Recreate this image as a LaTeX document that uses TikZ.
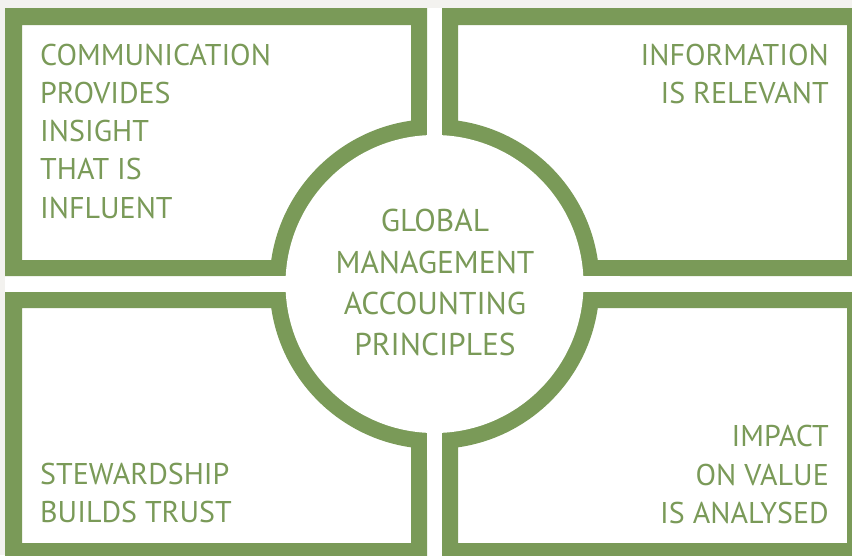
\documentclass[tikz,border=0pt]{standalone}
\usepackage{fontspec}
\setmainfont{PT Sans}
\usetikzlibrary{positioning}
\definecolor{gmagreen}{RGB}{122,154,88}
\definecolor{gmagrey}{RGB}{243,242,239}

\begin{document}
\begin{tikzpicture}[x=1pt, y=-1pt,
    frame/.style={fill=gmagreen, even odd rule},
    principle/.style={text=gmagreen, inner sep=0pt,
      font=\fontsize{30}{38.3}\selectfont},
    centre/.style={principle, align=center,
      font=\fontsize{31.5}{41.3}\selectfont}]
    \useasboundingbox (0,0) rectangle (852,555);
    \fill[gmagrey] (0,0) rectangle (852,555);
    \fill[white] (5,8) rectangle (852,555);

    \fill[frame] (5,8) rectangle (427,276) (22,25) rectangle (411,260);
    \fill[frame] (442,8) rectangle (864,276) (458,25) rectangle (847,260);
    \fill[frame] (5,292) rectangle (427,560) (22,308) rectangle (411,543);
    \fill[frame] (442,292) rectangle (864,560) (458,308) rectangle (847,543);

    \coordinate (hub) at (434.5,284);
    \fill[gmagreen] (hub) circle (165);
    \fill[white] (hub) circle (149);
    \fill[white] (427,100) rectangle (442,470);
    \fill[white] (250,276) rectangle (620,292);

    % base anchor sits on the last line
    \node [principle, align=left, anchor=base west] (comm) at (40,218.2)
      {COMMUNICATION\\PROVIDES\\INSIGHT\\THAT IS\\INFLUENT};
    \node [principle, align=right, anchor=base east] (info) at (829,103.3)
      {INFORMATION\\IS RELEVANT};
    \node [principle, align=left, anchor=base west] (stew) at (40,522.3)
      {STEWARDSHIP\\BUILDS TRUST};
    \node [principle, align=right, anchor=base east] (impact) at (829,523.3)
      {IMPACT\\ON VALUE\\IS ANALYSED};
    \node [centre, anchor=base] (gmap) at (435,355.6)
      {GLOBAL\\MANAGEMENT\\ACCOUNTING\\PRINCIPLES};
\end{tikzpicture}
\end{document}
